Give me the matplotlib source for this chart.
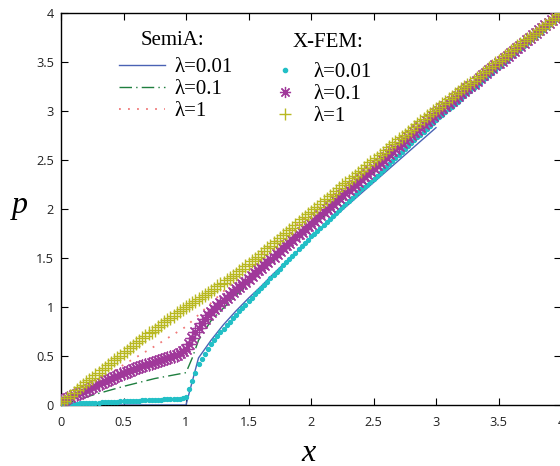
import numpy as np
import matplotlib
matplotlib.use('Agg')
import matplotlib.pyplot as plt
from matplotlib.ticker import MultipleLocator, FuncFormatter

# ---------------- data ----------------
# SemiA (analytical) curves
semi_x_001 = [0, 1.0, 1.1, 1.2, 1.3, 1.4, 1.5, 1.6, 1.7, 1.8, 1.9, 2.0, 2.25, 2.5, 2.75, 3.0]
semi_p_001 = [0, 0, 0.48, 0.66, 0.82, 0.96, 1.09, 1.21, 1.34, 1.46, 1.58, 1.70, 1.99, 2.27, 2.55, 2.83]

semi_x_01 = [0, 0.25, 0.5, 0.75, 1.0, 1.05, 1.1, 1.2, 1.3, 1.4, 1.5, 1.75, 2.0, 2.5, 3.0]
semi_p_01 = [0, 0.10, 0.19, 0.27, 0.33, 0.48, 0.66, 0.86, 0.99, 1.12, 1.24, 1.53, 1.81, 2.37, 2.94]

semi_x_1 = [0, 0.25, 0.5, 0.75, 1.0, 1.1, 1.2, 1.3, 1.4, 1.5, 1.6, 1.7, 1.8, 2.0, 2.5, 3.0]
semi_p_1 = [0, 0.20, 0.41, 0.60, 0.80, 0.92, 1.04, 1.16, 1.29, 1.42, 1.54, 1.65, 1.75, 1.96, 2.48, 3.0]

# X-FEM nodal results, one value every 0.025 in x from 0 to 4
xfem_x = np.linspace(0, 4, 161)
xfem_p_001 = [
    0.010, 0.010, 0.010, 0.012, 0.013, 0.015, 0.016, 0.018, 0.019, 0.021, 0.022, 0.024, 0.025, 0.027,
    0.028, 0.030, 0.031, 0.033, 0.034, 0.036, 0.037, 0.039, 0.040, 0.042, 0.043, 0.045, 0.046, 0.048,
    0.049, 0.051, 0.052, 0.054, 0.055, 0.057, 0.058, 0.060, 0.062, 0.064, 0.066, 0.070, 0.080,
    0.16, 0.24, 0.33, 0.42, 0.47, 0.52, 0.57, 0.62, 0.66, 0.70, 0.74, 0.78, 0.815, 0.85, 0.885, 0.92,
    0.955, 0.99, 1.025, 1.06, 1.095, 1.13, 1.16, 1.19, 1.225, 1.26, 1.295, 1.33, 1.36, 1.39, 1.425,
    1.46, 1.49, 1.52, 1.555, 1.59, 1.62, 1.65, 1.685, 1.72,
    1.75, 1.78, 1.81, 1.84, 1.87, 1.90, 1.93, 1.96, 1.99, 2.02, 2.05, 2.08, 2.11, 2.14, 2.17, 2.20,
    2.225, 2.25, 2.28, 2.31, 2.34, 2.37, 2.40, 2.43, 2.46, 2.49, 2.52, 2.55, 2.58, 2.61, 2.64, 2.67,
    2.70, 2.73, 2.76, 2.79, 2.82, 2.85, 2.88, 2.91,
    2.935, 2.96, 2.99, 3.02, 3.045, 3.07, 3.095, 3.12, 3.15, 3.18, 3.205, 3.23, 3.26, 3.29, 3.315,
    3.34, 3.365, 3.39, 3.42, 3.45, 3.475, 3.50, 3.53, 3.56, 3.585, 3.61, 3.635, 3.66, 3.69, 3.72,
    3.745, 3.77, 3.795, 3.82, 3.85, 3.88, 3.905, 3.93, 3.955, 3.98]
xfem_p_01 = [
    0.04, 0.055, 0.07, 0.085, 0.10, 0.11, 0.12, 0.135, 0.15, 0.165, 0.18, 0.195, 0.21, 0.225, 0.24,
    0.255, 0.27, 0.285, 0.30, 0.315, 0.33, 0.34, 0.35, 0.365, 0.38, 0.39, 0.40, 0.41, 0.42, 0.43,
    0.44, 0.45, 0.46, 0.47, 0.48, 0.49, 0.50, 0.515, 0.53, 0.55, 0.57,
    0.62, 0.68, 0.74, 0.79, 0.84, 0.88, 0.92, 0.95, 0.98, 1.01, 1.04, 1.07, 1.095, 1.12, 1.15, 1.18,
    1.205, 1.23, 1.26, 1.29, 1.32, 1.35, 1.375, 1.40, 1.43, 1.46, 1.485, 1.51, 1.54, 1.57, 1.60,
    1.63, 1.655, 1.68, 1.71, 1.74, 1.77, 1.80, 1.825, 1.85,
    1.88, 1.91, 1.94, 1.97, 1.995, 2.02, 2.05, 2.08, 2.11, 2.14, 2.165, 2.19, 2.22, 2.25, 2.28,
    2.31, 2.335, 2.36, 2.39, 2.42, 2.445, 2.47, 2.50, 2.53, 2.56, 2.59, 2.615, 2.64, 2.67, 2.70,
    2.73, 2.76, 2.785, 2.81, 2.84, 2.87, 2.895, 2.92, 2.95, 2.98,
    3.005, 3.03, 3.055, 3.08, 3.105, 3.13, 3.155, 3.18, 3.205, 3.23, 3.255, 3.28, 3.31, 3.34, 3.365,
    3.39, 3.415, 3.44, 3.465, 3.49, 3.515, 3.54, 3.565, 3.59, 3.615, 3.64, 3.665, 3.69, 3.72, 3.75,
    3.775, 3.80, 3.825, 3.85, 3.875, 3.90, 3.925, 3.95, 3.975, 4.00]
xfem_p_1 = [
    0.02, 0.045, 0.07, 0.095, 0.12, 0.15, 0.18, 0.205, 0.23, 0.255, 0.28, 0.305, 0.33, 0.355, 0.38,
    0.405, 0.43, 0.455, 0.48, 0.505, 0.53, 0.555, 0.58, 0.605, 0.63, 0.655, 0.68, 0.705, 0.73, 0.75,
    0.77, 0.795, 0.82, 0.845, 0.87, 0.89, 0.91, 0.935, 0.96, 0.98, 1.00,
    1.02, 1.04, 1.06, 1.08, 1.10, 1.12, 1.14, 1.16, 1.185, 1.21, 1.23, 1.25, 1.275, 1.30, 1.32, 1.34,
    1.365, 1.39, 1.415, 1.44, 1.465, 1.49, 1.515, 1.54, 1.57, 1.60, 1.625, 1.65, 1.675, 1.70, 1.73,
    1.76, 1.785, 1.81, 1.84, 1.87, 1.895, 1.92, 1.945, 1.97,
    1.995, 2.02, 2.05, 2.08, 2.105, 2.13, 2.155, 2.18, 2.21, 2.24, 2.265, 2.29, 2.315, 2.34, 2.365,
    2.39, 2.42, 2.45, 2.475, 2.50, 2.525, 2.55, 2.575, 2.60, 2.63, 2.66, 2.685, 2.71, 2.735, 2.76,
    2.785, 2.81, 2.84, 2.87, 2.895, 2.92, 2.945, 2.97, 2.995, 3.02,
    3.045, 3.07, 3.095, 3.12, 3.145, 3.17, 3.195, 3.22, 3.245, 3.27, 3.29, 3.31, 3.335, 3.36, 3.385,
    3.41, 3.435, 3.46, 3.485, 3.51, 3.535, 3.56, 3.585, 3.61, 3.635, 3.66, 3.685, 3.71, 3.735, 3.76,
    3.78, 3.80, 3.825, 3.85, 3.875, 3.90, 3.925, 3.95, 3.975, 4.00]

labels = ['λ=0.01', 'λ=0.1', 'λ=1']
title_semi = 'SemiA:'
title_xfem = 'X-FEM:'

# ---------------- figure ----------------
W, H = 560, 466
fig = plt.figure(figsize=(W / 100, H / 100), dpi=100)
ax = fig.add_axes([61 / W, 61 / H, 500 / W, 392 / H])

serif = 'Liberation Serif'

c_blue = '#4a62b4'
c_green = '#1f7f3f'
c_pink = '#f07878'
c_cyan = '#22bfc6'
c_mag = '#a0389a'
c_yel = '#b8b820'

l1, = ax.plot(semi_x_001, semi_p_001, color=c_blue, lw=1.0, zorder=3)
l2, = ax.plot(semi_x_01, semi_p_01, color=c_green, lw=1.0, dashes=(9, 3, 1, 3), zorder=3)
l3, = ax.plot(semi_x_1, semi_p_1, color=c_pink, lw=1.3, dashes=(1, 4), zorder=3)

m1, = ax.plot(xfem_x, xfem_p_001, ls='none', marker='o', ms=2.8, mec=c_cyan, mfc=c_cyan, zorder=4)
m2, = ax.plot(xfem_x, xfem_p_01, ls='none', marker=(8, 2, 0), ms=10, mew=0.9, color=c_mag, zorder=4)
m3, = ax.plot(xfem_x, xfem_p_1, ls='none', marker='+', ms=10.5, mew=1.0, color=c_yel, zorder=5)

ax.set_xlim(0, 4)
ax.set_ylim(0, 4)
ax.xaxis.set_major_locator(MultipleLocator(0.5))
ax.yaxis.set_major_locator(MultipleLocator(0.5))
fmt = FuncFormatter(lambda v, pos: f'{v:g}')
ax.xaxis.set_major_formatter(fmt)
ax.yaxis.set_major_formatter(fmt)
ax.tick_params(direction='in', top=True, right=True, length=5, width=0.8,
               labelsize=9.2, colors='black')
ax.tick_params(axis='x', pad=8)
ax.tick_params(axis='y', pad=5)
for lab in ax.get_xticklabels() + ax.get_yticklabels():
    lab.set_family('Open Sans')
    lab.set_color('#222222')
for s in ax.spines.values():
    s.set_linewidth(1.0)

# legends
prop = dict(family=serif, size=15)
leg1 = ax.legend([l1, l2, l3], labels, loc='upper left', bbox_to_anchor=(0.116, 0.887),
                 frameon=False, prop=prop, handlelength=2.2, handletextpad=0.48,
                 labelspacing=0.12, borderpad=0, borderaxespad=0)
ax.add_artist(leg1)
leg2 = ax.legend([m1, m2, m3], labels, loc='upper left', bbox_to_anchor=(0.432, 0.874),
                 frameon=False, prop=prop, handlelength=0.8, handletextpad=0.93,
                 labelspacing=0.12, borderpad=0, borderaxespad=0, numpoints=1)
for h, s in zip(leg2.legend_handles, [3.0, 8, 8]):
    h.set_markersize(s)
ax.text(0.222, 0.931, title_semi, transform=ax.transAxes, ha='center', va='center',
        family=serif, size=15)
ax.text(0.534, 0.926, title_xfem, transform=ax.transAxes, ha='center', va='center',
        family=serif, size=15)

fig.text(309 / W, 5 / H, 'x', ha='center', va='baseline', family=serif, style='italic', size=23)
fig.text(20 / W, (H - 213) / H, 'p', ha='center', va='baseline', family=serif, style='italic', size=23)

fig.savefig('out.png', dpi=100)
